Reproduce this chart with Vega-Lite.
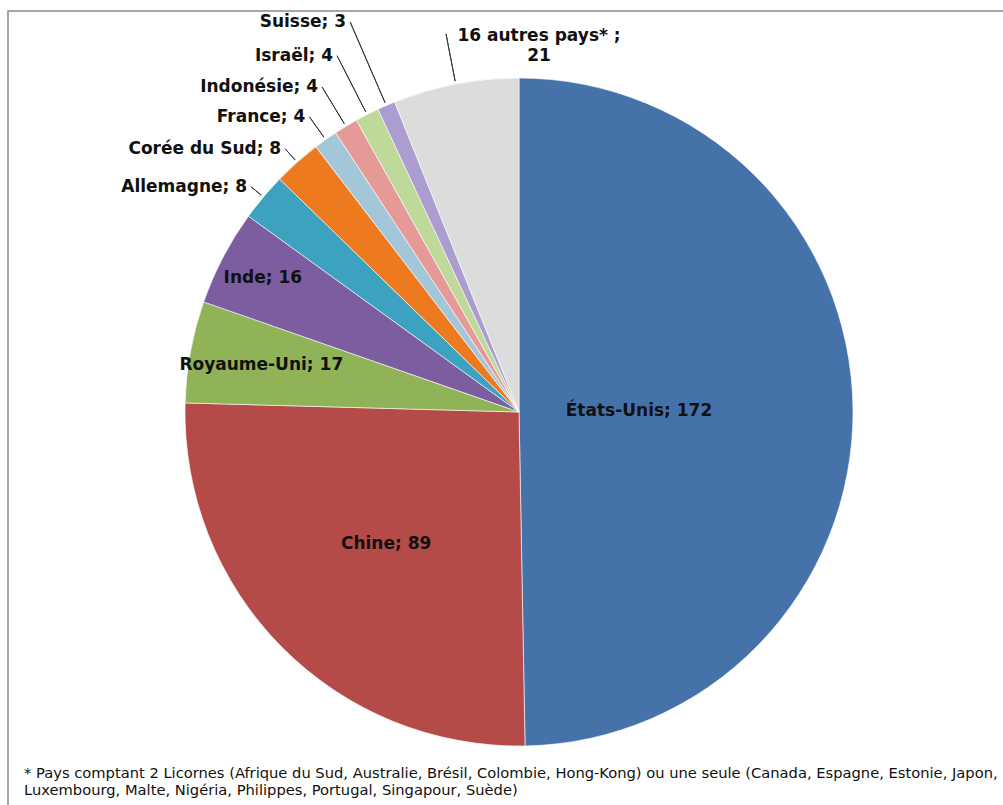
{
  "$schema": "https://vega.github.io/schema/vega-lite/v6.json",
  "width": 1003,
  "height": 805,
  "autosize": {"type": "fit", "contains": "padding"},
  "padding": {"left": 7, "top": 10, "right": -28, "bottom": -9},
  "background": "white",
  "config": {"view": {"stroke": null}},
  "title": {
    "text": [
      "* Pays comptant 2 Licornes (Afrique du Sud, Australie, Brésil, Colombie, Hong-Kong) ou une seule (Canada, Espagne, Estonie, Japon,",
      "Luxembourg, Malte, Nigéria, Philippes, Portugal, Singapour, Suède)"
    ],
    "orient": "bottom",
    "anchor": "start",
    "frame": "group",
    "offset": -48,
    "dx": 16,
    "font": "DejaVu Sans",
    "fontSize": 14.7,
    "fontWeight": "normal",
    "color": "#111111",
    "lineHeight": 17
  },
  "data": {
    "values": [
      {"pays": "États-Unis", "n": 172, "ordre": 1, "label": "États-Unis; 172"},
      {"pays": "Chine", "n": 89, "ordre": 2, "label": "Chine; 89"},
      {"pays": "Royaume-Uni", "n": 17, "ordre": 3, "label": "Royaume-Uni; 17"},
      {"pays": "Inde", "n": 16, "ordre": 4, "label": "Inde; 16"},
      {"pays": "Allemagne", "n": 8, "ordre": 5, "label": "Allemagne; 8"},
      {"pays": "Corée du Sud", "n": 8, "ordre": 6, "label": "Corée du Sud; 8"},
      {"pays": "France", "n": 4, "ordre": 7, "label": "France; 4"},
      {"pays": "Indonésie", "n": 4, "ordre": 8, "label": "Indonésie; 4"},
      {"pays": "Israël", "n": 4, "ordre": 9, "label": "Israël; 4"},
      {"pays": "Suisse", "n": 3, "ordre": 10, "label": "Suisse; 3"},
      {"pays": "16 autres pays", "n": 21, "ordre": 11, "label": "16 autres pays* ;\n21"}
    ]
  },
  "layer": [
    {
      "data": {"values": [{"cadre": "bordure"}]},
      "mark": {"type": "rect", "fill": null, "fillOpacity": 0, "stroke": "#8a8a8a", "strokeWidth": 1.5},
      "encoding": {}
    },
    {
      "mark": {"type": "arc", "outerRadius": 334, "stroke": "white", "strokeWidth": 0.6},
      "encoding": {
        "theta": {"field": "n", "type": "quantitative", "stack": true},
        "order": {"field": "ordre", "type": "quantitative"},
        "color": {
          "field": "pays",
          "type": "nominal",
          "legend": null,
          "scale": {
            "domain": ["États-Unis", "Chine", "Royaume-Uni", "Inde", "Allemagne", "Corée du Sud", "France", "Indonésie", "Israël", "Suisse", "16 autres pays"],
            "range": ["#4672AA", "#B44B48", "#8FB356", "#7B5DA0", "#3DA2BF", "#EE7A1F", "#A3C7D8", "#E59A98", "#BFD99A", "#AC9DD0", "#DCDCDC"]
          }
        }
      }
    },
    {
      "transform": [
        {"stack": "n", "groupby": [], "sort": [{"field": "ordre", "order": "ascending"}], "as": ["a0", "a1"]},
        {"fold": ["a0", "a1"], "as": ["bord", "angle"]},
        {"aggregate": [{"op": "mean", "field": "angle", "as": "mid"}], "groupby": ["pays", "ordre", "label"]},
        {"filter": "datum.ordre >= 5"}
      ],
      "mark": {"type": "arc", "filled": false, "stroke": "#3a3a3a", "strokeWidth": 1},
      "encoding": {
        "theta": {"field": "mid", "type": "quantitative"},
        "theta2": {"field": "mid"},
        "radius": {
          "field": "ordre",
          "type": "quantitative",
          "scale": {"type": "linear", "zero": false, "domain": [1, 2, 3, 4, 5, 6, 7, 8, 9, 10, 11], "range": [120, 187, 262, 289, 350, 352, 362, 380, 400, 425, 385]}
        },
        "radius2": {"value": 337}
      }
    },
    {
      "transform": [
        {"stack": "n", "groupby": [], "sort": [{"field": "ordre", "order": "ascending"}], "as": ["a0", "a1"]},
        {"fold": ["a0", "a1"], "as": ["bord", "angle"]},
        {"aggregate": [{"op": "mean", "field": "angle", "as": "mid"}], "groupby": ["pays", "ordre", "label"]},
        {"filter": "datum.ordre <= 4"}
      ],
      "mark": {"type": "text", "font": "DejaVu Sans", "fontSize": 17, "fontWeight": "bold", "fill": "#111111", "align": "center", "baseline": "middle"},
      "encoding": {
        "theta": {"field": "mid", "type": "quantitative"},
        "radius": {"field": "ordre", "type": "quantitative"},
        "text": {"field": "label", "type": "nominal"}
      }
    },
    {
      "transform": [
        {"stack": "n", "groupby": [], "sort": [{"field": "ordre", "order": "ascending"}], "as": ["a0", "a1"]},
        {"fold": ["a0", "a1"], "as": ["bord", "angle"]},
        {"aggregate": [{"op": "mean", "field": "angle", "as": "mid"}], "groupby": ["pays", "ordre", "label"]},
        {"filter": "datum.ordre >= 5 && datum.ordre <= 10"}
      ],
      "mark": {"type": "text", "font": "DejaVu Sans", "fontSize": 17, "fontWeight": "bold", "fill": "#111111", "align": "right", "baseline": "middle", "dx": -4},
      "encoding": {
        "theta": {"field": "mid", "type": "quantitative"},
        "radius": {"field": "ordre", "type": "quantitative"},
        "text": {"field": "label", "type": "nominal"}
      }
    },
    {
      "transform": [
        {"stack": "n", "groupby": [], "sort": [{"field": "ordre", "order": "ascending"}], "as": ["a0", "a1"]},
        {"fold": ["a0", "a1"], "as": ["bord", "angle"]},
        {"aggregate": [{"op": "mean", "field": "angle", "as": "mid"}], "groupby": ["pays", "ordre", "label"]},
        {"filter": "datum.ordre == 11"}
      ],
      "mark": {"type": "text", "font": "DejaVu Sans", "fontSize": 17, "fontWeight": "bold", "fill": "#111111", "align": "center", "baseline": "middle", "dx": 93, "dy": 2, "lineBreak": "\n", "lineHeight": 20},
      "encoding": {
        "theta": {"field": "mid", "type": "quantitative"},
        "radius": {"field": "ordre", "type": "quantitative"},
        "text": {"field": "label", "type": "nominal"}
      }
    }
  ]
}
